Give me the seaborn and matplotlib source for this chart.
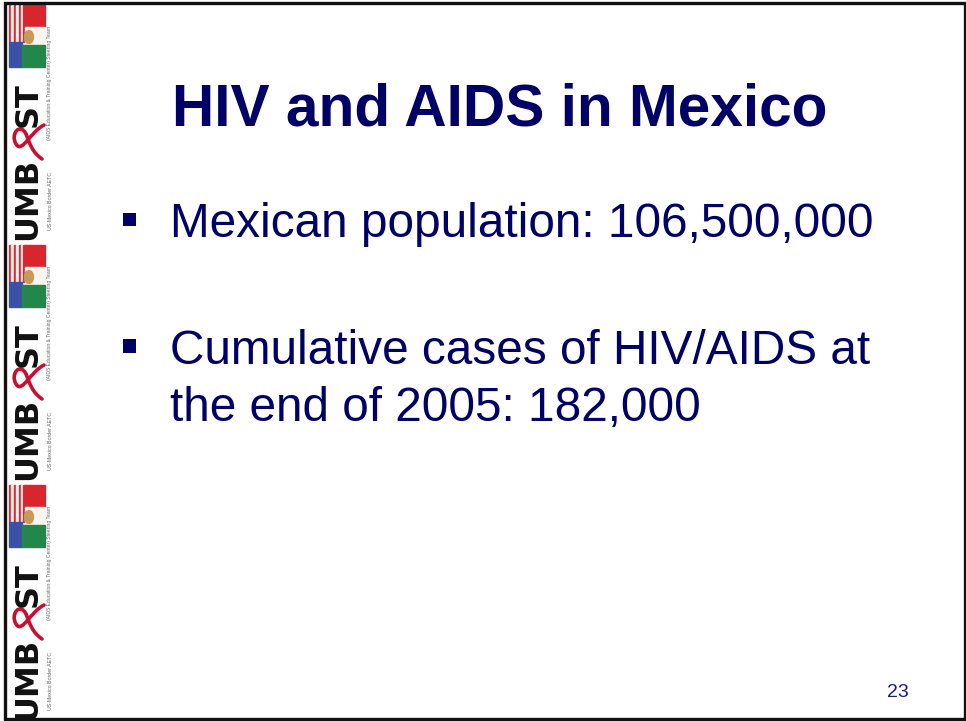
import matplotlib
matplotlib.use("Agg")
import matplotlib.pyplot as plt
from matplotlib.patches import Rectangle, Ellipse, PathPatch
from matplotlib.path import Path
import seaborn as sns
import pandas as pd

# slide content
title = "HIV and AIDS in Mexico"
bullet_1 = ["Mexican population: 106,500,000"]
bullet_2 = ["Cumulative cases of HIV/AIDS at", "the end of 2005: 182,000"]
page_number = "23"
logo_word_bottom = "UMB"
logo_word_top = "ST"
logo_note_top = "(AIDS Education & Training Center) Steering Team"
logo_note_bottom = "US-Mexico Border AETC"

NAVY = "#000066"

sns.set_theme(style="white")
plt.rcParams['font.family'] = ['Liberation Sans', 'DejaVu Sans']

fig = plt.figure(figsize=(9.66, 7.21), dpi=100)
ax = fig.add_axes([0, 0, 1, 1])
ax.set_xlim(0, 966)
ax.set_ylim(721, 0)
ax.axis('off')

# slide frame
frame = Rectangle((4.5, 2.5), 960, 716, fill=False, edgecolor='#111111', lw=2.4, zorder=10)
ax.add_patch(frame)


def draw_logo(y0):
    # flags block (US stripes + Mexican tricolour, rotated)
    parts = []
    for i in range(7):
        c = '#d22b33' if i % 2 == 0 else '#f4eeee'
        parts.append(Rectangle((9 + i * 2.4, y0), 2.4, 37, color=c))
    parts.append(Rectangle((25, y0), 20, 22, color='#d9262c'))
    parts.append(Rectangle((25, y0 + 22), 20, 18, color='#f7f5ef'))
    parts.append(Rectangle((9, y0 + 37), 13, 25, color='#3a52a6'))
    parts.append(Rectangle((22, y0 + 40), 23, 22, color='#23874c'))
    parts.append(Ellipse((29, y0 + 32), 9, 13, color='#c89a5a'))
    for p in parts:
        p.set_clip_path(frame)
        ax.add_patch(p)

    t1 = ax.text(28, y0 + 100, logo_word_top, rotation=90, ha='center', va='center',
                 fontsize=23, fontweight='bold', color='#111111', family='DejaVu Sans')
    t2 = ax.text(28, y0 + 194, logo_word_bottom, rotation=90, ha='center', va='center',
                 fontsize=23, fontweight='bold', color='#111111', family='DejaVu Sans')
    t3 = ax.text(50, y0 + 78, logo_note_top, rotation=90, ha='center', va='center',
                 fontsize=3.6, color='#666666')
    t4 = ax.text(50, y0 + 196, logo_note_bottom, rotation=90, ha='center', va='center',
                 fontsize=3.8, color='#666666')
    for t in (t1, t2, t3, t4):
        t.set_clip_path(frame)

    # red ribbon
    verts = [(44, y0 + 120), (30, y0 + 127), (22, y0 + 149), (16, y0 + 139),
             (10, y0 + 129), (20, y0 + 117), (26, y0 + 129),
             (30, y0 + 139), (32, y0 + 147), (42, y0 + 154)]
    codes = [Path.MOVETO] + [Path.CURVE4] * 9
    rib = PathPatch(Path(verts, codes), fill=False, edgecolor='#c8102e', lw=2.6, capstyle='round')
    rib.set_clip_path(frame)
    ax.add_patch(rib)


for k in range(3):
    draw_logo(5 + 240 * k)

# title
ax.text(172, 126, title, ha='left', va='baseline', fontsize=42.2,
        fontweight='bold', color=NAVY)

# bullets
bullets = pd.DataFrame({'x': [129.5, 129.5], 'y': [219.5, 346]})
sns.scatterplot(data=bullets, x='x', y='y', marker='s', s=90, color=NAVY,
                edgecolor='none', ax=ax, legend=False)

ax.text(170, 237, bullet_1[0], ha='left', va='baseline', fontsize=34.4, color=NAVY)
for i, line in enumerate(bullet_2):
    ax.text(170, 364 + 57 * i, line, ha='left', va='baseline', fontsize=34.4, color=NAVY)

ax.text(887, 697, page_number, ha='left', va='baseline', fontsize=14, color='#1a1a80')

plt.savefig('out.png', dpi=100)
plt.close()
